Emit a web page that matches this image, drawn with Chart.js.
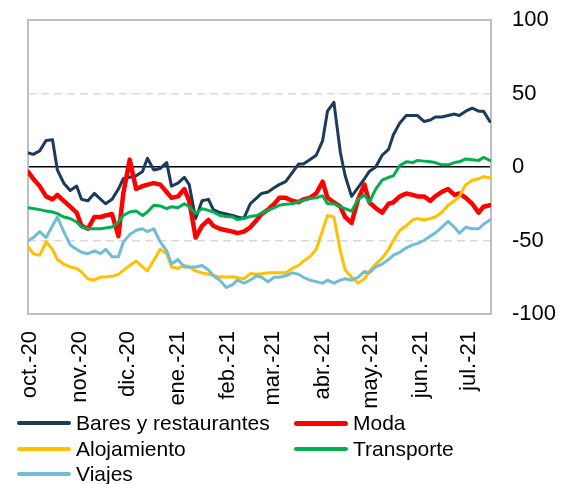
<!DOCTYPE html>
<html lang="es">
<head>
<meta charset="UTF-8">
<title>Gasto por sector</title>
<script src="https://cdn.jsdelivr.net/npm/chart.js"></script>
<style>
  body { margin: 0; background: #fff; font-family: "Liberation Sans", Arial, sans-serif; }
  #wrap { position: relative; width: 568px; height: 484px; }
  #legend { position: absolute; left: 0; top: 0; width: 568px; height: 484px; pointer-events: none; }
  .item { position: absolute; display: flex; align-items: center; height: 25px; font-size: 21px; color: #000; white-space: nowrap; }
  .swatch { width: 54px; border-radius: 3px; margin-right: 5px; }
</style>
</head>
<body>
<div id="wrap">
  <canvas id="chart" width="568" height="410"></canvas>
  <div id="legend"></div>
</div>
<script>
// days since 1 oct 2020
const days = [-1, 2, 6, 10, 14, 17, 21, 25, 29, 32, 36, 40, 44, 47, 51, 55, 58, 62, 66, 70,
  73, 77, 81, 85, 88, 92, 96, 99, 103, 107, 111, 114, 118, 122, 126, 129, 133, 137, 141, 144,
  148, 152, 155, 159, 163, 167, 170, 174, 178, 182, 185, 189, 193, 196, 200, 204, 208, 211, 215, 219,
  223, 226, 230, 234, 238, 241, 245, 249, 252, 256, 260, 264, 267, 271, 275, 279, 282, 286];

const monthStarts = [0, 31, 61, 92, 123, 151, 182, 212, 243, 273];
const monthLabels = ['oct.-20', 'nov.-20', 'dic.-20', 'ene.-21', 'feb.-21', 'mar.-21', 'abr.-21', 'may.-21', 'jun.-21', 'jul.-21'];

const bares = [9.5, 8.6, 11, 18, 18.6, -2, -11, -16, -13, -22, -23, -18, -22, -25, -22, -15, -8, -7, -6, -3,
  6, -2, -1, 3, -13, -11, -7, -12, -35, -23, -22, -29, -31, -32, -33, -34, -35, -25, -21, -18,
  -17, -14, -12, -10, -4, 2, 2, 5, 8, 18, 38, 44, 10, -6, -20, -14, -8, -3, 0, 8,
  12, 22, 30, 35, 35, 35, 31, 32, 34, 34, 35, 36, 35, 38, 40, 38, 38, 31];

const moda = [-3.5, -8, -13, -20, -22, -19, -23, -27, -31, -40, -42, -34, -34, -33, -32, -47, -18, 5, -15, -13,
  -12, -11, -12, -17, -21, -20, -15, -23, -48, -40, -36, -40, -42, -43, -44, -45, -44, -41, -36, -32,
  -29, -25, -21, -21, -23, -24, -22, -21, -18, -10, -21, -24, -27, -34, -38, -22, -12, -24, -28, -31,
  -25, -24, -20, -18, -19, -20, -20, -23, -20, -17, -15, -19, -18, -21, -25, -31, -27, -26];

const alojamiento = [-54.4, -59, -60, -51, -56, -63, -66, -68, -69, -71.4, -76, -77, -74.8, -74.8, -74.4, -73, -70.3, -67, -64, -68,
  -70.7, -63.5, -56, -59, -68, -69, -67, -68, -70.7, -72, -73, -73.7, -74.8, -74.8, -74.6, -75.3, -76, -72.5, -73, -72.6,
  -72, -72, -72, -72, -69, -67, -64, -61, -56, -43, -33, -34, -57, -70, -75, -79, -76, -71, -66, -62,
  -56, -50, -43, -40, -36, -35, -36, -35, -34, -31, -26, -23, -20, -12, -9, -8, -6.5, -7.5];

const transporte = [-27.7, -28.3, -29, -30, -30.6, -31.7, -34, -35, -37.4, -40.8, -42, -42, -42, -41.5, -40.8, -37.4, -33, -30.6, -30, -33,
  -30.6, -26, -26.5, -28.3, -27, -27.7, -25, -27, -31.7, -28.3, -29.5, -30.6, -33, -33.6, -34, -35.8, -35, -33.6, -33, -31.3,
  -29.5, -27.7, -26, -25.4, -25, -23.8, -22.7, -21.5, -21, -19.5, -25, -25, -27, -28.3, -30, -22, -19, -24, -15, -9,
  -7, -6, 1, 3.5, 3, 4.5, 4, 3.5, 3, 1.5, 1.5, 3, 3.5, 5.5, 5, 4.5, 6.5, 4.5];

const viajes = [-50, -48, -44, -48, -40, -34, -44, -53, -56, -58, -59, -57, -59, -56, -61, -61, -51, -46, -43, -42,
  -44, -42, -51, -57, -66, -63, -68, -68, -68, -67, -70, -74, -77, -82, -80, -77, -79, -77, -74, -75,
  -78, -75, -75, -74, -72, -73, -75, -77, -78, -79, -77, -79, -77, -76, -77, -75, -71, -72, -68, -66,
  -63, -60, -58, -55, -53, -52, -50, -47, -45, -41, -37, -41, -45, -41, -42, -42, -39, -36];

const seriesNames = ['Bares y restaurantes', 'Moda', 'Alojamiento', 'Transporte', 'Viajes'];
const seriesValues = [bares, moda, alojamiento, transporte, viajes];
const seriesColors = ['#1B3A5C', '#FF0000', '#FFC000', '#00B050', '#72BDD6'];
const seriesWidths = [3, 4.5, 3, 3, 3];

const font = { family: '"Liberation Sans", Arial, sans-serif', size: 22 };

// grey frame round the plot area
const plotFrame = {
  id: 'plotFrame',
  beforeDatasetsDraw(chart) {
    const { ctx, chartArea: a } = chart;
    ctx.save();
    ctx.strokeStyle = '#BFBFBF';
    ctx.lineWidth = 2;
    ctx.strokeRect(a.left, a.top, a.right - a.left, a.bottom - a.top);
    ctx.restore();
  }
};

new Chart(document.getElementById('chart'), {
  type: 'line',
  data: {
    datasets: seriesNames.map((name, k) => ({
      label: name,
      data: days.map((d, i) => ({ x: d, y: seriesValues[k][i] })),
      borderColor: seriesColors[k],
      backgroundColor: seriesColors[k],
      borderWidth: seriesWidths[k],
      pointRadius: 0,
      tension: 0,
      borderJoinStyle: 'round',
      borderCapStyle: 'round',
      order: seriesNames.length - k
    }))
  },
  options: {
    responsive: false,
    animation: false,
    layout: { padding: { left: 28, top: 20, right: 0, bottom: 0 } },
    plugins: { legend: { display: false }, tooltip: { enabled: false } },
    scales: {
      x: {
        type: 'linear',
        min: -1.25,
        max: 286.7,
        grid: { display: false, drawTicks: false },
        border: { display: false },
        afterBuildTicks: s => { s.ticks = monthStarts.map(v => ({ value: v })); },
        afterFit: s => { s.height = 96; },
        ticks: {
          autoSkip: false,
          minRotation: 90,
          maxRotation: 90,
          padding: 17,
          color: '#000',
          font: font,
          callback: (v, i) => monthLabels[i]
        }
      },
      y: {
        position: 'right',
        min: -100,
        max: 100,
        afterFit: s => { s.width = 77; s.paddingTop = 0; s.paddingBottom = 0; },
        ticks: { stepSize: 50, padding: 21, color: '#000', font: font },
        grid: {
          drawTicks: false,
          color: c => c.tick.value === 0 ? '#000000' : (Math.abs(c.tick.value) === 50 ? '#D9D9D9' : 'rgba(0,0,0,0)'),
          lineWidth: 1.5
        },
        border: {
          display: false,
          dash: c => (c.tick && Math.abs(c.tick.value) === 50) ? [8, 5] : []
        }
      }
    }
  },
  plugins: [plotFrame]
});

// legend in two columns, like the original
const legend = document.getElementById('legend');
seriesNames.forEach((name, k) => {
  const item = document.createElement('div');
  item.className = 'item';
  item.style.left = (k % 2 ? 294 : 17) + 'px';
  item.style.top = (410.5 + Math.floor(k / 2) * 25.5) + 'px';
  const sw = document.createElement('span');
  sw.className = 'swatch';
  sw.style.background = seriesColors[k];
  sw.style.height = (k === 1 ? 5 : 4) + 'px';
  const tx = document.createElement('span');
  tx.textContent = name;
  item.appendChild(sw);
  item.appendChild(tx);
  legend.appendChild(item);
});
</script>
</body>
</html>
